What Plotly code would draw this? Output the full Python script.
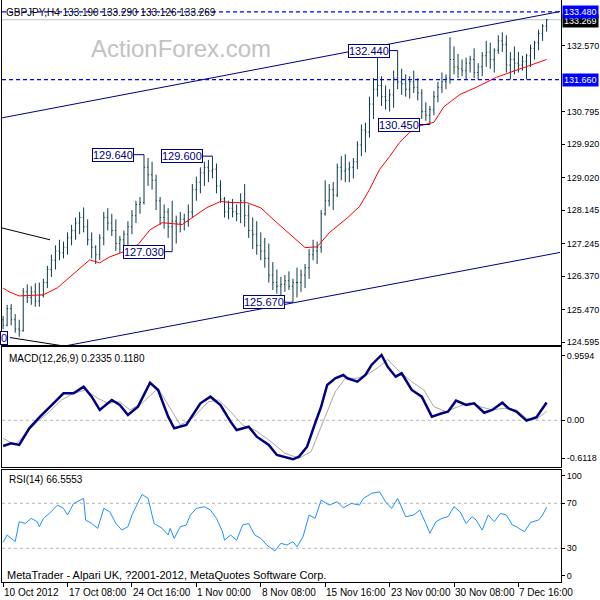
import plotly.graph_objects as go

# ---------------- data ----------------
# bar positions counted in H4 bars (each drawn bar = two H4 bars)
bar_pos = list(range(0, 271, 2))

highs = [125.30, 125.60, 125.62, 125.35, 125.20, 126.05, 126.15, 126.10, 126.18, 126.20,
         126.30, 126.65, 126.95, 127.20, 127.35, 127.30, 127.55, 127.75, 127.95, 128.10,
         128.22, 127.90, 127.55, 127.20, 127.50, 128.10, 128.20, 128.05, 127.90, 127.45,
         127.60, 127.85, 128.15, 128.40, 128.50, 129.64, 129.55, 129.45, 129.10, 128.50,
         128.30, 128.20, 128.40, 128.00, 128.10, 128.05, 128.30, 128.85, 129.05, 129.30,
         129.45, 129.50, 129.60, 129.40, 128.95, 128.50, 128.40, 128.45, 128.30, 128.60,
         128.85, 128.30, 127.95, 127.85, 127.55, 127.40, 127.25, 126.75, 126.55, 126.35,
         126.40, 126.50, 126.30, 126.60, 126.55, 126.70, 127.10, 127.35, 127.30, 128.15,
         128.95, 128.85, 128.90, 129.40, 129.60, 129.65, 129.45, 129.55, 130.00, 130.45,
         130.50, 131.20, 131.70, 132.35, 131.75, 131.50, 131.40, 131.90, 132.44, 131.95,
         131.80, 131.75, 131.90, 131.70, 131.40, 131.05, 130.95, 131.35, 131.60, 131.85,
         131.80, 132.80, 132.55, 132.35, 132.20, 132.25, 132.30, 132.50, 132.10, 132.40,
         132.70, 132.65, 132.50, 132.85, 132.93, 132.85, 132.40, 132.55, 132.40, 132.30,
         132.35, 132.60, 132.70, 133.00, 133.15, 133.29]

lows = [124.95, 125.02, 125.05, 124.85, 124.74, 124.88, 125.65, 125.60, 125.55, 125.55,
        125.80, 126.05, 126.35, 126.55, 126.80, 126.85, 126.95, 127.20, 127.35, 127.50,
        127.55, 127.20, 126.85, 126.70, 126.80, 127.20, 127.60, 127.45, 127.05, 127.00,
        127.05, 127.20, 127.50, 127.80, 128.05, 128.30, 128.80, 128.70, 128.15, 127.75,
        127.65, 127.40, 127.03, 127.25, 127.55, 127.60, 127.70, 127.95, 128.40, 128.60,
        128.80, 128.90, 129.00, 128.60, 128.35, 127.95, 127.90, 127.95, 127.85, 127.80,
        127.70, 127.40, 127.10, 126.95, 126.80, 126.60, 126.20, 126.00, 125.90, 125.85,
        125.95, 126.00, 125.67, 125.80, 125.95, 126.05, 126.30, 126.80, 126.70, 127.00,
        128.00, 128.25, 128.15, 128.50, 128.95, 128.90, 128.90, 129.00, 129.25, 129.60,
        129.70, 130.10, 130.60, 131.20, 130.95, 130.85, 130.80, 130.90, 131.40, 131.25,
        131.20, 131.15, 131.30, 131.10, 130.60, 130.55, 130.45, 130.70, 131.05, 131.30,
        131.40, 131.55, 131.80, 131.70, 131.75, 131.66, 131.85, 131.70, 131.66, 131.75,
        132.00, 131.95, 131.85, 132.35, 132.40, 131.85, 131.66, 131.80, 131.85, 131.90,
        131.66, 132.00, 132.20, 132.45, 132.70, 132.95]

closes = [125.05, 125.50, 125.20, 124.95, 124.90, 125.95, 125.80, 125.95, 125.70, 125.85,
          126.20, 126.55, 126.80, 127.05, 127.00, 127.15, 127.40, 127.60, 127.80, 127.95,
          127.70, 127.35, 127.15, 126.95, 127.40, 127.95, 127.80, 127.60, 127.25, 127.35,
          127.50, 127.70, 128.00, 128.30, 128.35, 129.30, 129.10, 128.95, 128.40, 127.95,
          128.10, 127.70, 127.85, 127.80, 127.90, 127.85, 128.10, 128.70, 128.90, 129.15,
          129.30, 129.20, 129.25, 128.80, 128.45, 128.10, 128.20, 128.10, 128.05, 128.40,
          128.00, 127.60, 127.50, 127.20, 127.05, 126.85, 126.40, 126.20, 126.10, 126.15,
          126.25, 126.10, 126.20, 126.20, 126.40, 126.60, 126.95, 127.05, 127.15, 128.05,
          128.40, 128.70, 128.55, 129.30, 129.20, 129.25, 129.30, 129.45, 129.90, 130.30,
          130.25, 131.00, 131.40, 131.50, 131.20, 131.10, 131.25, 131.70, 131.60, 131.55,
          131.40, 131.60, 131.45, 131.30, 130.80, 130.70, 130.85, 131.20, 131.45, 131.60,
          131.70, 132.20, 132.00, 131.95, 131.90, 132.10, 132.20, 131.85, 132.00, 132.30,
          132.40, 132.20, 132.45, 132.70, 132.60, 132.05, 132.20, 132.10, 132.05, 132.15,
          132.30, 132.50, 132.65, 132.90, 133.10, 133.269]

opens = [125.20] + closes[:-1]

# red moving average
ma_pos = [0, 3, 8, 20, 27, 37, 43, 48, 53, 60, 67, 73, 79, 89, 94, 101, 108, 114, 121, 128,
          136, 144, 150, 156, 162, 171, 177, 182, 187, 192, 197, 202, 206, 214, 219, 227, 235,
          245, 255, 260, 270]
ma_val = [126.05, 125.95, 125.84, 125.87, 126.06, 126.54, 126.81, 126.73, 126.89, 127.03,
          127.22, 127.62, 127.81, 127.76, 127.94, 128.21, 128.38, 128.35, 128.35, 128.21,
          127.81, 127.43, 127.14, 127.16, 127.54, 127.94, 128.24, 128.70, 129.24, 129.59,
          129.97, 130.24, 130.40, 130.51, 130.93, 131.26, 131.45, 131.72, 131.91, 131.99, 132.20]

# MACD(12,26,9)
macd_pos = [0, 4, 8, 13, 18, 21, 25, 30, 35, 40, 44, 48, 54, 58, 62, 67, 73, 77, 82, 85,
            91, 98, 103, 108, 113, 116, 122, 126, 132, 136, 144, 147, 151, 155, 158, 161, 165,
            169, 171, 176, 180, 183, 188, 191, 195, 198, 203, 208, 213, 218, 221, 225, 230,
            234, 239, 243, 248, 251, 255, 260, 265, 270]
macd_val = [-0.336, -0.301, -0.323, -0.105, 0.039, 0.113, 0.222, 0.353, 0.353, 0.440,
            0.309, 0.135, 0.266, 0.200, 0.069, 0.178, 0.492, 0.397, 0.047, -0.105,
            -0.062, 0.222, 0.309, 0.200, -0.018, -0.127, -0.084, -0.215, -0.323, -0.454,
            -0.511, -0.476, -0.346, -0.039, 0.178, 0.462, 0.550, 0.593, 0.550, 0.505,
            0.593, 0.724, 0.855, 0.702, 0.571, 0.615, 0.397, 0.309, 0.047, 0.092,
            0.113, 0.257, 0.200, 0.222, 0.099, 0.135, 0.230, 0.157, 0.113, -0.005,
            0.039, 0.2335]
signal_pos = [0, 6, 12, 18, 23, 29, 35, 41, 47, 52, 58, 63, 69, 77, 84, 88, 94, 102, 107,
              113, 119, 125, 132, 140, 147, 153, 159, 165, 170, 176, 182, 188, 191, 197, 203,
              209, 214, 220, 226, 232, 237, 243, 249, 255, 260, 265, 270]
signal_val = [-0.236, -0.323, -0.149, 0.004, 0.113, 0.266, 0.353, 0.397, 0.288, 0.222,
              0.243, 0.135, 0.222, 0.419, 0.113, -0.062, 0.026, 0.243, 0.266, 0.113,
              -0.062, -0.127, -0.258, -0.432, -0.497, -0.411, -0.018, 0.374, 0.550, 0.550,
              0.615, 0.724, 0.798, 0.636, 0.505, 0.397, 0.178, 0.113, 0.178, 0.230,
              0.178, 0.135, 0.157, 0.135, 0.026, 0.013, 0.118]

# RSI(14)
rsi_pos = [0, 2, 6, 8, 11, 14, 17, 18, 20, 23, 27, 30, 32, 35, 40, 41, 44, 47, 50, 53, 56,
           59, 62, 64, 69, 72, 75, 79, 82, 83, 85, 88, 91, 93, 96, 100, 103, 106, 109, 110,
           113, 116, 119, 122, 125, 128, 131, 135, 138, 141, 144, 146, 149, 152, 155, 158,
           162, 166, 169, 173, 177, 179, 183, 187, 190, 193, 196, 200, 204, 207, 210, 212,
           215, 218, 221, 224, 227, 230, 233, 235, 238, 241, 244, 247, 250, 253, 255, 259,
           262, 266, 268, 270]
rsi_val = [35.3, 41.8, 35.9, 53.6, 52.1, 56.6, 53.6, 49.2, 56.6, 61.0, 68.4, 65.5, 59.6,
           69.9, 74.4, 55.1, 52.1, 47.7, 65.5, 62.5, 52.1, 46.2, 49.2, 59.6, 77.9, 74.4,
           52.1, 47.7, 41.8, 47.7, 38.8, 49.2, 50.7, 59.6, 65.5, 67.0, 64.0, 56.6, 44.7,
           37.3, 41.8, 37.3, 50.7, 52.1, 41.8, 38.8, 32.9, 27.6, 34.4, 32.9, 35.9, 31.4,
           40.3, 59.6, 56.6, 72.9, 68.4, 71.4, 66.1, 69.9, 68.4, 74.4, 78.8, 80.3, 71.4,
           65.5, 74.4, 58.1, 59.6, 64.0, 52.1, 43.3, 53.6, 56.6, 58.1, 67.0, 62.5, 52.1,
           58.1, 55.1, 46.2, 59.6, 53.6, 61.0, 59.6, 50.7, 49.2, 44.7, 53.0, 55.1, 59.6, 66.6]

# time axis
tick_pos = [0, 32, 64, 96, 128, 160, 192, 224, 256]
tick_text = ["10 Oct 2012", "17 Oct 08:00", "24 Oct 16:00", "1 Nov 00:00", "8 Nov 08:00",
             "15 Nov 16:00", "23 Nov 00:00", "30 Nov 08:00", "7 Dec 16:00"]

price_ticks = [132.570, 130.795, 129.920, 129.020, 128.145, 127.245, 126.370, 125.470, 124.595]

# drawn objects (anchor points: bar position, price)
upper_channel_pos = [-1.5, 276.7]
upper_channel_val = [130.62, 133.49]
lower_channel_pos = [28.3, 276.7]
lower_channel_val = [124.47, 127.01]
black_line1_pos = [-1.5, 23.3]
black_line1_val = [127.68, 127.35]
black_line2_pos = [3.4, 29.3]
black_line2_val = [124.72, 124.50]

level_lines = [133.480, 131.660]
last_price = 133.269

swing_pos = [70, 104, 84, 144, 196, 212]
swing_val = [129.640, 129.600, 127.030, 125.670, 132.440, 130.450]
swing_shift = [-31.5, -30, -28, -28.5, -29, -30.5]

# ---------------- figure ----------------
BAR = "#0E3B4C"
NAVY = "#000080"
FONT = "Liberation Sans"
PW, PH, L, B = 559.0, 582.0, 2, 18


def px(xp):
    return (xp - L) / PW


def py(yp):
    return (PH - yp) / PH


fig = go.Figure()

fig.add_trace(go.Ohlc(x=bar_pos, open=opens, high=highs, low=lows, close=closes,
                      increasing=dict(line=dict(color=BAR, width=1)),
                      decreasing=dict(line=dict(color=BAR, width=1)),
                      tickwidth=0.25, xaxis="x", yaxis="y", hoverinfo="skip"))

fig.add_trace(go.Scatter(x=ma_pos, y=ma_val, mode="lines", line=dict(color="#FF0000", width=1),
                         xaxis="x", yaxis="y"))
fig.add_trace(go.Scatter(x=upper_channel_pos, y=upper_channel_val, mode="lines",
                         line=dict(color=NAVY, width=1), xaxis="x", yaxis="y"))
fig.add_trace(go.Scatter(x=lower_channel_pos, y=lower_channel_val, mode="lines",
                         line=dict(color=NAVY, width=1), xaxis="x", yaxis="y"))
fig.add_trace(go.Scatter(x=black_line1_pos, y=black_line1_val, mode="lines",
                         line=dict(color="#000000", width=1), xaxis="x", yaxis="y"))
fig.add_trace(go.Scatter(x=black_line2_pos, y=black_line2_val, mode="lines",
                         line=dict(color="#000000", width=1), xaxis="x", yaxis="y"))

fig.add_trace(go.Scatter(x=signal_pos, y=signal_val, mode="lines",
                         line=dict(color="#A8A8A8", width=1), xaxis="x2", yaxis="y2"))
fig.add_trace(go.Scatter(x=macd_pos, y=macd_val, mode="lines",
                         line=dict(color=NAVY, width=2.5), xaxis="x2", yaxis="y2"))

fig.add_trace(go.Scatter(x=rsi_pos, y=rsi_val, mode="lines",
                         line=dict(color="#1E90FF", width=1), xaxis="x3", yaxis="y3"))

shapes = []
for lv in level_lines:
    shapes.append(dict(type="line", xref="x domain", yref="y", x0=0, x1=1, y0=lv, y1=lv,
                       line=dict(color="#0000FF", width=1.2, dash="4px,3px"), layer="above"))
shapes.append(dict(type="line", xref="x domain", yref="y", x0=0, x1=1, y0=last_price,
                   y1=last_price, line=dict(color="#C0C0C0", width=1), layer="below"))
shapes.append(dict(type="line", xref="x2 domain", yref="y2", x0=0, x1=1, y0=0, y1=0,
                   line=dict(color="#B4B4B4", width=1, dash="3px,3px"), layer="below"))
for lv in (70, 30):
    shapes.append(dict(type="line", xref="x3 domain", yref="y3", x0=0, x1=1, y0=lv, y1=lv,
                       line=dict(color="#B4B4B4", width=1, dash="3px,3px"), layer="below"))

ann = []
ann.append(dict(xref="paper", yref="paper", x=px(4), y=py(12), xanchor="left", yanchor="middle",
                text="GBPJPY,H4 133.190 133.290 133.126 133.269", showarrow=False,
                font=dict(family=FONT, size=10, color="#000000")))
ann.append(dict(xref="paper", yref="paper", x=px(181), y=py(48), xanchor="center",
                yanchor="middle", text="ActionForex.com", showarrow=False,
                font=dict(family=FONT, size=24, color="#C2C2C2")))
ann.append(dict(xref="paper", yref="paper", x=px(7), y=py(358), xanchor="left", yanchor="middle",
                text="MACD(12,26,9) 0.2335 0.1180", showarrow=False,
                font=dict(family=FONT, size=10, color="#000000")))
ann.append(dict(xref="paper", yref="paper", x=px(7), y=py(479), xanchor="left", yanchor="middle",
                text="RSI(14) 66.5553", showarrow=False,
                font=dict(family=FONT, size=10, color="#000000")))
ann.append(dict(xref="paper", yref="paper", x=px(5), y=py(575), xanchor="left", yanchor="middle",
                text="MetaTrader - Alpari UK, ?2001-2012, MetaQuotes Software Corp.",
                showarrow=False, font=dict(family=FONT, size=11, color="#000000")))
for tp, tt in zip(tick_pos, tick_text):
    ann.append(dict(xref="x3", yref="paper", x=tp, y=py(592), xanchor="left", yanchor="middle",
                    xshift=-1, text=tt, showarrow=False,
                    font=dict(family=FONT, size=10, color="#000000")))

# right axis highlighted labels
for lv, bg, ys in ((last_price, "#000000", -1), (level_lines[0], "#0000FF", 0),
                   (level_lines[1], "#0000FF", 0)):
    ann.append(dict(xref="x domain", yref="y", x=1, y=lv, xanchor="left", yanchor="middle",
                    xshift=1, yshift=ys, text="%.3f" % lv, showarrow=False, bgcolor=bg,
                    borderpad=1, font=dict(family=FONT, size=9, color="#FFFFFF")))

# swing labels
for sp, sv, sh in zip(swing_pos, swing_val, swing_shift):
    ann.append(dict(xref="x", yref="y", x=sp, y=sv, ax=sh, ay=0, showarrow=True, arrowhead=0,
                    arrowwidth=1, arrowcolor=NAVY, text="%.3f" % sv, bgcolor="#FFFFFF",
                    bordercolor=NAVY, borderwidth=1, borderpad=0,
                    font=dict(family=FONT, size=11, color=NAVY)))
ann.append(dict(xref="paper", yref="y", x=px(4), y=black_line2_val[0], xanchor="center",
                yanchor="middle", text="0", showarrow=False, bgcolor="#FFFFFF",
                bordercolor=NAVY, borderwidth=1, borderpad=0,
                font=dict(family=FONT, size=11, color=NAVY)))

xr = [-0.55, 277.15]
common_x = dict(range=xr, showgrid=False, zeroline=False, showline=True, linecolor="#000000",
                linewidth=1, fixedrange=True)
common_y = dict(side="right", showgrid=False, zeroline=False, showline=True, mirror=True,
                linecolor="#000000", linewidth=1, ticks="outside", ticklen=3, tickcolor="#000000",
                tickfont=dict(family=FONT, size=9, color="#000000"))

fig.update_layout(
    width=600, height=600, margin=dict(l=L, r=39, t=0, b=B, autoexpand=False),
    paper_bgcolor="#FFFFFF", plot_bgcolor="#FFFFFF", showlegend=False,
    xaxis=dict(common_x, domain=[0, 1], anchor="y", showticklabels=False, ticks="",
               rangeslider=dict(visible=False)),
    xaxis2=dict(common_x, domain=[0, 1], anchor="y2", showticklabels=False, ticks="",
                mirror=True, matches="x"),
    xaxis3=dict(common_x, domain=[0, 1], anchor="y3", showticklabels=False, mirror=True,
                ticks="outside", ticklen=4, tickcolor="#000000", tickvals=tick_pos,
                matches="x"),
    yaxis=dict(common_y, domain=[1 - 345 / PH, 1], anchor="x", range=[124.52, 133.80],
               tickvals=price_ticks, ticktext=["%.3f" % v for v in price_ticks]),
    yaxis2=dict(common_y, domain=[1 - 467 / PH, 1 - 347 / PH], anchor="x2",
                range=[-0.6118, 0.9594], tickvals=[0.845, 0, -0.497],
                ticktext=["0.9594", "0.00", "-0.6118"]),
    yaxis3=dict(common_y, domain=[0, 1 - 469.6 / PH], anchor="x3", range=[0, 100],
                tickvals=[94.5, 70, 30, 5.6], ticktext=["100", "70", "30", "0"]),
    shapes=shapes, annotations=ann,
)

fig.write_html("out.html", config={"displayModeBar": False},
               post_script="document.body.style.margin='0px';document.body.style.padding='0px';")
